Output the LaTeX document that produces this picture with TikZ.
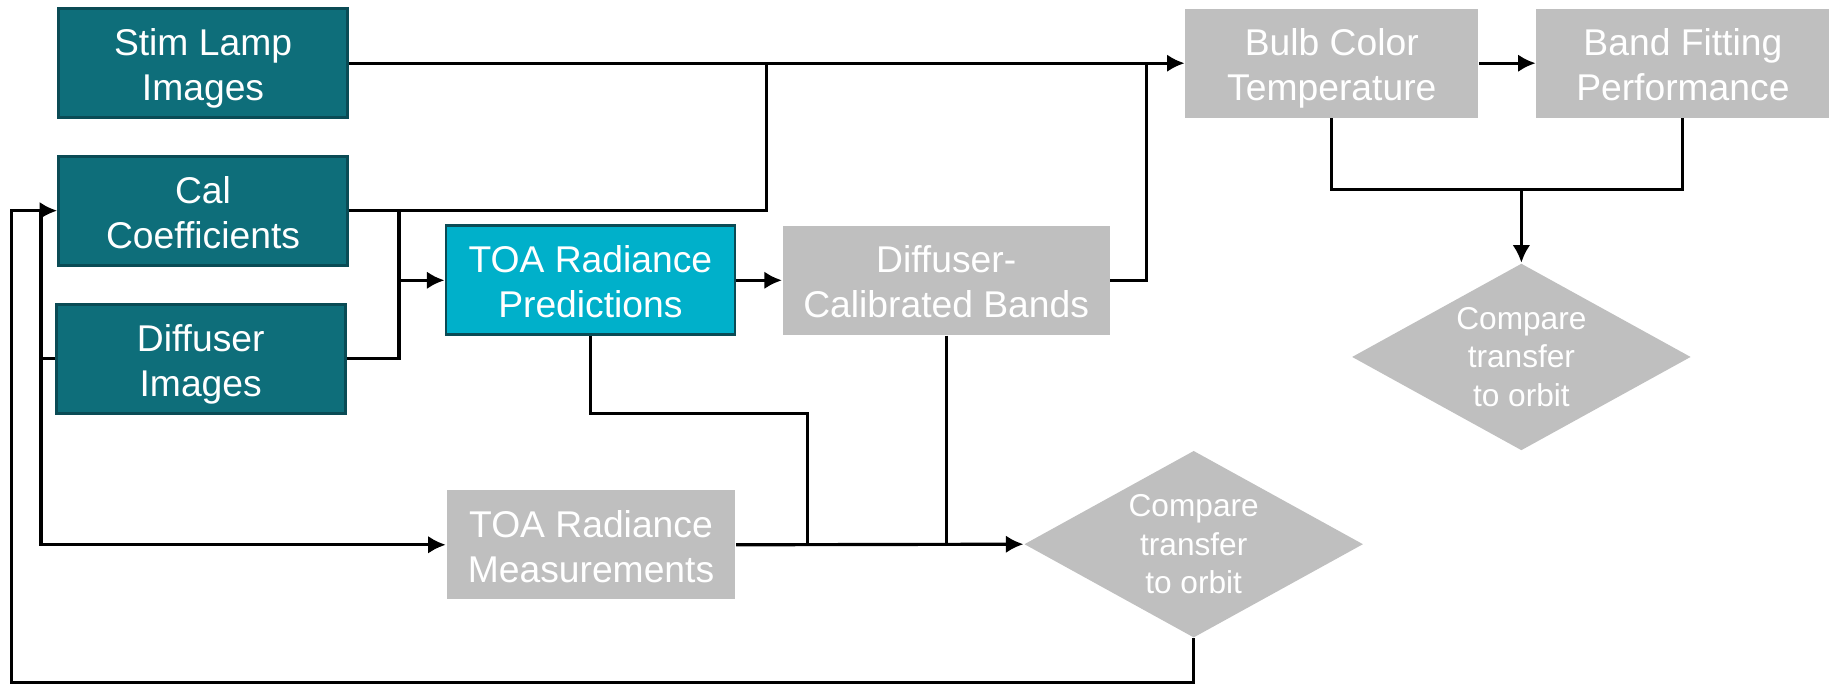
\documentclass[tikz,border=0pt]{standalone}
\usepackage{fontspec}
\setmainfont{Liberation Sans}
\usepackage{xcolor}
\usetikzlibrary{shapes.geometric,arrows.meta}
\definecolor{tealbox}{RGB}{14,110,122}
\definecolor{tealedge}{RGB}{10,75,85}
\definecolor{cyanbox}{RGB}{0,176,202}
\definecolor{graybox}{RGB}{191,191,191}

\begin{document}
\begin{tikzpicture}[x=0.011703cm,y=-0.011703cm]
\useasboundingbox (0,0) rectangle (1568,587);
\tikzstyle{block}=[rectangle,align=center,text=white,inner sep=0pt,
  minimum width=2.89cm,minimum height=1.09cm,font=\fontsize{10.6}{12.8}\selectfont,
  text height=24.3pt,text depth=3pt]
\tikzstyle{inbox}=[block,fill=tealbox,draw=tealedge,line width=0.8pt]
\tikzstyle{predbox}=[block,fill=cyanbox,draw=tealedge,line width=0.8pt]
\tikzstyle{outbox}=[block,fill=graybox]
\tikzstyle{cmp}=[diamond,fill=graybox,inner sep=0pt,minimum width=3.39cm,minimum height=1.87cm]
\tikzstyle{cmptext}=[align=center,text=white,font=\fontsize{9}{11}\selectfont]
\tikzstyle{wire}=[line width=0.9pt,color=black]
\tikzstyle{flow}=[wire,-{Latex[length=5pt,width=5pt]}]

% input blocks
\node[inbox] (stim) at (173.5,54) {Stim Lamp\\Images};
\node[inbox] (cal) at (173.5,180) {Cal\\Coefficients};
\node[inbox] (diff) at (171.5,306.5) {Diffuser\\Images};

\node[predbox] (pred) at (504.5,239.5) {TOA Radiance\\Predictions};
\node[outbox,minimum width=3.27cm] (dcal) at (808.5,239.5) {Diffuser-\\Calibrated Bands};
\node[outbox] (meas) at (505,465.5) {TOA Radiance\\Measurements};

\node[outbox,minimum width=2.93cm] (bulb) at (1138,54) {Bulb Color\\Temperature};
\node[outbox,minimum width=2.93cm] (band) at (1438,54) {Band Fitting\\Performance};

\node[cmp,label={[cmptext]center:Compare\\transfer\\to orbit}] (cmp1) at (1300,305) {};
\node[cmp,label={[cmptext]center:Compare\\transfer\\to orbit}] (cmp2) at (1020,465) {};

% junctions
\coordinate (j1) at (655,54);
\coordinate (j2) at (341,239.5);
\coordinate (j3) at (980,54);
\coordinate (j4) at (1300,162);
\coordinate (j5) at (690,353);
\coordinate (j6) at (690,465);
\coordinate (j7) at (808.5,465);
\coordinate (fb) at (10,583);
\coordinate (j9) at (35,180);

\draw[flow] (stim) -- (bulb);
\draw[wire] (cal.east) -| (j1);
\draw[wire] (cal.east) -| (j2);
\draw[wire] (diff.east) -| (j2);
\draw[flow] (j2) -- (pred);
\draw[flow] (pred) -- (dcal);
\draw[wire] (dcal.east) -| (j3);
\draw[flow] (bulb) -- (band);
\draw[wire] (bulb.south) |- (j4) -| (band.south);
\draw[flow] (j4) -- (cmp1.north);

\draw[wire] (pred.south) |- (j5) -- (j6);
\draw[wire] (dcal.south) -- (j7);
\draw[flow] (meas.east) -- (cmp2.west);

% feedback loop
\draw[flow] (cmp2.south) |- (fb) |- (cal.west);
\draw[wire] (j9) |- (diff.west);
\draw[flow] (j9) |- (meas.west);
\end{tikzpicture}
\end{document}
